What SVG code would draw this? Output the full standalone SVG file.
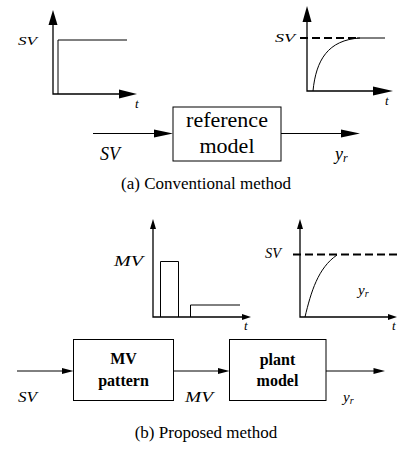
<svg xmlns="http://www.w3.org/2000/svg" width="405" height="450" viewBox="0 0 405 450" font-family="Liberation Serif, DejaVu Serif, serif">
<style>
.ln{fill:none;stroke:#000;stroke-width:1.3}
.th{fill:none;stroke:#000;stroke-width:1}
.ah{fill:#000;stroke:none}
.it{font-style:italic}
.bd{font-weight:bold}
.dash{fill:none;stroke:#000;stroke-width:2.2;stroke-dasharray:8,4}
</style>
<rect width="405" height="450" fill="#fff"/>

<g id="graph-sv-step">
  <path class="ln" d="M53,24 V94 H120"/>
  <polygon class="ah" points="53,10 57.5,25 48.5,25"/>
  <polygon class="ah" points="137,94 119,89.5 119,98.5"/>
  <path class="th" d="M58,94 V40 H127"/>
  <text class="it" x="18" y="45" font-size="13" textLength="19" lengthAdjust="spacingAndGlyphs">SV</text>
  <text class="it" x="135" y="108" font-size="13">t</text>
</g>

<g id="graph-ref-response">
  <path class="ln" d="M307,21 V91 H374"/>
  <polygon class="ah" points="307,6 311.5,22 302.5,22"/>
  <polygon class="ah" points="393,91 373,86.5 373,95.5"/>
  <line class="dash" x1="300" y1="38" x2="357" y2="38"/>
  <line class="th" x1="357" y1="38" x2="385" y2="38"/>
  <path class="th" d="M313,91 C316,60 328,40 360,38"/>
  <text class="it" x="275" y="42" font-size="13" textLength="20" lengthAdjust="spacingAndGlyphs">SV</text>
  <text class="it" x="385" y="105" font-size="13">t</text>
</g>

<g id="connectors">
  <line class="th" x1="93" y1="133.5" x2="156" y2="133.5"/>
  <polygon class="ah" points="173,133.5 154,129.5 154,137.5"/>
  <line class="th" x1="281" y1="133.5" x2="343" y2="133.5"/>
  <polygon class="ah" points="360,133.5 341,129.5 341,137.5"/>
  <line class="th" x1="17" y1="371" x2="64" y2="371"/>
  <polygon class="ah" points="73.5,371 62,368 62,374"/>
  <line class="th" x1="173.5" y1="371" x2="220" y2="371"/>
  <polygon class="ah" points="229.5,371 218,368 218,374"/>
  <line class="th" x1="326" y1="371" x2="376" y2="371"/>
  <polygon class="ah" points="385,371 373.5,368 373.5,374"/>
</g>

<g id="reference-model">
  <rect class="th" x="173" y="107" width="108" height="54"/>
  <text x="227" y="127" font-size="22" text-anchor="middle">reference</text>
  <text x="227" y="153" font-size="22" text-anchor="middle">model</text>
</g>
<text class="it" x="100" y="160" font-size="18">SV</text>
<text class="it" x="335" y="160" font-size="18">y<tspan font-size="12" dy="2">r</tspan></text>
<text x="206" y="189" font-size="17" text-anchor="middle">(a) Conventional method</text>

<g id="graph-mv-pattern">
  <path class="ln" d="M153,227 V317 H244"/>
  <polygon class="ah" points="153,219 156,229 150,229"/>
  <polygon class="ah" points="251,317 242,314 242,320"/>
  <path class="th" d="M160.5,317 V261.5 H178.5 V317"/>
  <path class="th" d="M190.5,317 V305 H240"/>
  <text class="it" x="114" y="266" font-size="14" textLength="29" lengthAdjust="spacingAndGlyphs">MV</text>
  <text class="it" x="244" y="330" font-size="13">t</text>
</g>

<g id="graph-plant-response">
  <path class="ln" d="M300,227 V317 H390"/>
  <polygon class="ah" points="300,219 303,229 297,229"/>
  <polygon class="ah" points="397,317 388,314 388,320"/>
  <line class="dash" x1="293" y1="254.5" x2="400" y2="254.5"/>
  <path class="th" d="M305,317 C311,292 318,268 337,255"/>
  <text class="it" x="265" y="258" font-size="14" textLength="16" lengthAdjust="spacingAndGlyphs">SV</text>
  <text class="it" x="358" y="295" font-size="15">y<tspan font-size="10" dy="2">r</tspan></text>
  <text class="it" x="392" y="330" font-size="13">t</text>
</g>

<g id="mv-pattern">
  <rect class="th" x="73.5" y="339.5" width="100" height="61"/>
  <text class="bd" x="123.5" y="364" font-size="16" text-anchor="middle">MV</text>
  <text class="bd" x="123.5" y="386" font-size="16" text-anchor="middle">pattern</text>
</g>
<g id="plant-model">
  <rect class="th" x="229.5" y="339.5" width="96.5" height="61"/>
  <text class="bd" x="277.5" y="365" font-size="16" text-anchor="middle">plant</text>
  <text class="bd" x="277.5" y="386" font-size="16" text-anchor="middle">model</text>
</g>
<text class="it" x="18" y="402" font-size="14" textLength="19" lengthAdjust="spacingAndGlyphs">SV</text>
<text class="it" x="185" y="402" font-size="14" textLength="28" lengthAdjust="spacingAndGlyphs">MV</text>
<text class="it" x="343" y="402" font-size="15">y<tspan font-size="10" dy="2">r</tspan></text>
<text x="206" y="438" font-size="17" text-anchor="middle">(b) Proposed method</text>
</svg>
